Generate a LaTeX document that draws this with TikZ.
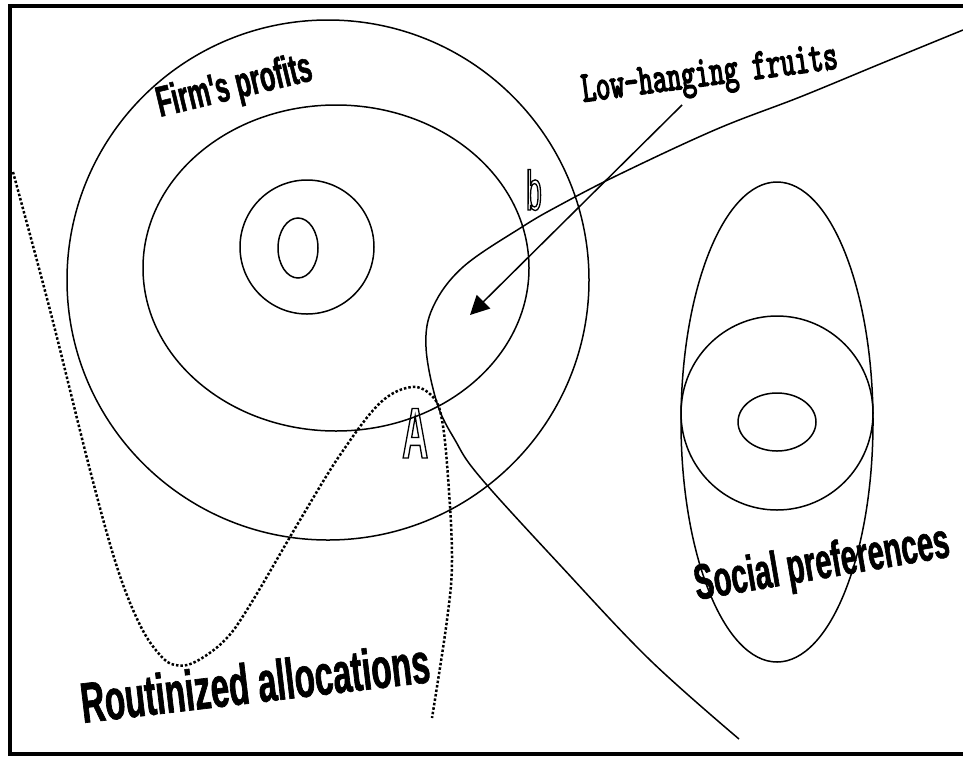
\documentclass[tikz,border=0pt]{standalone}
\usepackage{fontspec}
\usetikzlibrary{arrows.meta}
\newfontfamily\narrowsans[FakeStretch=0.58,BoldFeatures={FakeBold=1.2}]{Liberation Sans}
\newfontfamily\tallsans[FakeStretch=0.5]{Liberation Sans}
\newfontfamily\narrowmono[Extension=.otf,FakeStretch=0.62,FakeBold=3]{lmmono10-regular}
% hollow letters: text drawn as outline only
\newcommand\hollow[1]{\special{pdf:literal direct 1 Tr 1.3 w}#1\special{pdf:literal direct 0 Tr}}
\tikzset{
  curve/.style={line width=1.5pt},
  dots/.style={dash pattern=on 2.5pt off 2pt,line width=2.5pt},
  caption/.style={inner sep=0pt,anchor=base west},
}
\begin{document}
\begin{tikzpicture}[x=1pt,y=-1pt,>={Triangle[length=19pt,width=19pt]}]
\useasboundingbox (0,0) rectangle (963,756);
\draw[line width=4.5pt] (10,6) rectangle (990,754);

% firm's profits
\draw[curve] (328,280) ellipse [x radius=261pt,y radius=260pt];
\draw[curve] (336,268) ellipse [x radius=193pt,y radius=163pt];
\draw[curve] (307,247) circle [radius=67pt];
\draw[curve] (298,248) ellipse [x radius=20pt,y radius=30pt];
\node[caption,font=\narrowsans\bfseries\fontsize{43}{43}\selectfont,rotate=13.5] (firm) at (160,117) {Firm's profits};

% social preferences
\draw[curve] (777,422) ellipse [x radius=96pt,y radius=240pt];
\draw[curve] (777,413) ellipse [x radius=96pt,y radius=97pt];
\draw[curve] (777,422) ellipse [x radius=39pt,y radius=29pt];
\node[caption,font=\narrowsans\bfseries\fontsize{50}{50}\selectfont,rotate=9.7] (social) at (697,600) {Social preferences};

% low-hanging fruits
\draw[curve] plot[smooth,tension=0.6] coordinates {(963,30) (880,64) (800,97) (717,129) (620,174) (560,205)
  (522,227) (463,267) (433,307) (426,347) (437,403) (455,440) (480,477) (560,565) (650,660) (739,739)};
\node[caption,font=\narrowmono\fontsize{44}{44}\selectfont,rotate=7.5] (fruits) at (583,102) {Low-hanging fruits};
\coordinate (tail) at (682,105);
\coordinate (tip) at (470,315);
\draw[curve,->] (tail) -- (tip);

% routinized allocations
\draw[dots] plot[smooth,tension=0.6] coordinates {(13,172) (50,310) (90,470) (117,567) (140,625) (160,655)
  (175,665) (195,662) (225,640) (250,605) (300,520) (340,455) (380,403) (412,387) (433,397) (442,420)
  (448,477) (452,560) (447,620) (432,718)};
\node[caption,font=\narrowsans\bfseries\fontsize{57}{57}\selectfont,rotate=6.7] (routine) at (83,723) {Routinized allocations};

% points
\node[caption,font=\tallsans\fontsize{56}{56}\selectfont] (pointb) at (526,210) {\hollow{b}};
\node[caption,font=\tallsans\bfseries\fontsize{72}{72}\selectfont] (pointA) at (402,458) {\hollow{A}};
\end{tikzpicture}
\end{document}
